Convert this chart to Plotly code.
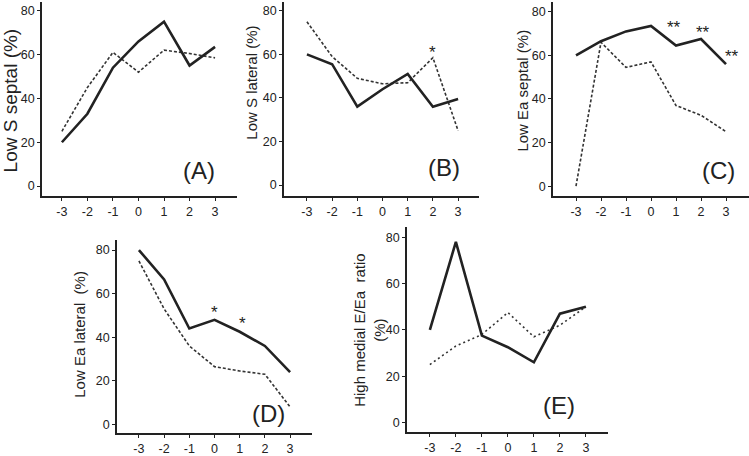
import plotly.graph_objects as go

W, H = 749, 456

x_vals = [-3, -2, -1, 0, 1, 2, 3]
x_labels = ["-3", "-2", "-1", "0", "1", "2", "3"]
y_ticks = [0, 20, 40, 60, 80]

a_solid = [20, 33, 54, 66, 75, 55, 63.5]
a_dash = [25, 45, 61, 52, 62, 60.5, 58.5]
b_solid = [60, 55.5, 36, 44, 51, 36, 39.5]
b_dash = [75, 59, 49, 46.5, 47, 58.5, 25]
c_solid = [60, 66.5, 71, 73.5, 64.5, 67.5, 56]
c_dash = [0, 66, 54.5, 57, 37, 32.5, 25]
d_solid = [80, 66.5, 44, 48, 42.5, 36, 24]
d_dash = [75, 53, 36, 26.5, 24.5, 23, 8]
e_solid = [40, 78, 37.5, 32.5, 26, 47, 50]
e_dot = [25, 33, 38, 47.5, 37, 42, 50]

titles = ["Low S septal (%)", "Low S lateral (%)", "Low Ea septal (%)",
          "Low Ea lateral  (%)", "High medial E/Ea  ratio<br>(%)"]
labels = ["(A)", "(B)", "(C)", "(D)", "(E)"]

# significance marks: (panel index 0..4, x, y, text)
stars_panel = [1, 2, 2, 2, 3, 3]
stars_x = [2, 0.92, 2.08, 3.24, 0, 1.13]
stars_y = [61, 73, 70.5, 59.5, 51.5, 46.5]
stars_text = ["*", "**", "**", "**", "*", "*"]

# layout geometry in pixels (left, right, top, bottom) and axis ranges
panels = [
    dict(px=(42, 237), py=(2, 199), xr=(-3.78, 3.86), yr=(-4.5, 84.0)),
    dict(px=(284, 479), py=(2, 199), xr=(-3.91, 3.83), yr=(-4.97, 84.07)),
    dict(px=(553, 749), py=(2, 199), xr=(-3.92, 3.92), yr=(-4.5, 84.5)),
    dict(px=(117, 312), py=(244, 440), xr=(-3.87, 3.87), yr=(-4.07, 84.5)),
    dict(px=(407, 608), py=(231, 439), xr=(-3.88, 3.85), yr=(-4.26, 84.26)),
]
title_pos = [(10, 102, 19), (252, 84, 15), (523, 92, 15), (80, 340, 15), (370, 336, 15)]
label_pos = [(199, 173), (444, 170), (718, 173), (268, 420), (559, 412)]

series = [(a_solid, a_dash, "3px,2px"), (b_solid, b_dash, "3px,2px"),
          (c_solid, c_dash, "3px,2px"), (d_solid, d_dash, "3px,2px"),
          (e_solid, e_dot, "2px,3px")]

fig = go.Figure()
FONT = "Liberation Sans, Arial, sans-serif"
annotations = []

for i, (p, (sol, dsh, dpat)) in enumerate(zip(panels, series)):
    n = "" if i == 0 else str(i + 1)
    xa, ya = "x" + n, "y" + n
    fig.add_trace(go.Scatter(x=x_vals, y=dsh, mode="lines", xaxis=xa, yaxis=ya,
                             line=dict(color="#333333", width=1.6, dash=dpat),
                             showlegend=False, hoverinfo="skip"))
    fig.add_trace(go.Scatter(x=x_vals, y=sol, mode="lines", xaxis=xa, yaxis=ya,
                             line=dict(color="#222222", width=2.6),
                             showlegend=False, hoverinfo="skip"))
    axcommon = dict(showgrid=False, zeroline=False, showline=True, linecolor="#222222",
                    linewidth=1.6, ticks="outside", ticklen=3, tickwidth=1.2,
                    tickcolor="#222222", tickfont=dict(family=FONT, size=12.5, color="#222222"))
    fig.update_layout(**{
        "xaxis" + n: dict(domain=[p["px"][0] / W, p["px"][1] / W], range=list(p["xr"]),
                          anchor=ya, tickvals=x_vals, ticktext=x_labels, **axcommon),
        "yaxis" + n: dict(domain=[1 - p["py"][1] / H, 1 - p["py"][0] / H], range=list(p["yr"]),
                          anchor=xa, tickvals=y_ticks, **axcommon),
    })
    tx, ty, ts = title_pos[i]
    annotations.append(dict(text=titles[i], x=tx / W, y=1 - ty / H, xref="paper", yref="paper",
                            textangle=-90, showarrow=False, xanchor="center", yanchor="middle",
                            font=dict(family=FONT, size=ts, color="#222222")))
    lx, ly = label_pos[i]
    annotations.append(dict(text=labels[i], x=lx / W, y=1 - ly / H, xref="paper", yref="paper",
                            showarrow=False, xanchor="center", yanchor="middle",
                            font=dict(family=FONT, size=24, color="#222222")))

for pi, sx, sy, st in zip(stars_panel, stars_x, stars_y, stars_text):
    n = "" if pi == 0 else str(pi + 1)
    annotations.append(dict(text=st, x=sx, y=sy, xref="x" + n, yref="y" + n, showarrow=False,
                            xanchor="center", yanchor="middle",
                            font=dict(family=FONT, size=17, color="#222222")))

fig.update_layout(width=W, height=H, margin=dict(l=0, r=0, t=0, b=0),
                  paper_bgcolor="white", plot_bgcolor="white",
                  annotations=annotations, font=dict(family=FONT))

fig.write_html("out.html", config={"displayModeBar": False},
               post_script="document.body.style.margin='0';document.body.style.overflow='hidden';")
